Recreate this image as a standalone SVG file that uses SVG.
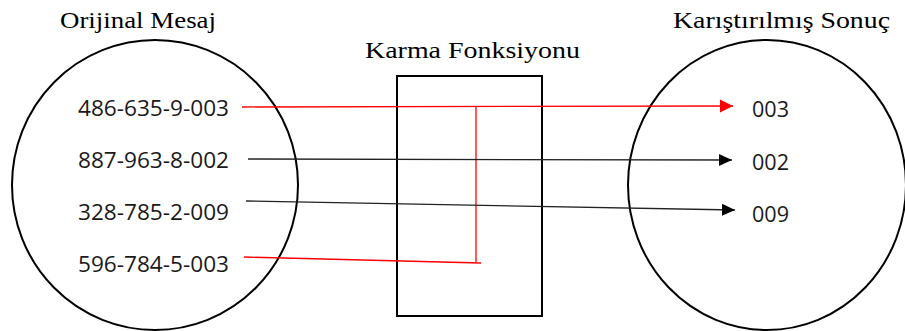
<svg xmlns="http://www.w3.org/2000/svg" width="905" height="331" viewBox="0 0 905 331">
  <style>
    .title { font-family: "Liberation Serif", "DejaVu Serif", serif; font-size: 24px; fill: #000; }
    .label { font-family: "Open Sans", "Noto Sans", sans-serif; font-size: 21px; fill: #1a1a1a; }
    .shape { fill: none; stroke: #000; stroke-width: 2; }
    .red { fill: none; stroke: #ff0000; stroke-width: 1.3; }
    .blk { fill: none; stroke: #222; stroke-width: 1.3; }
  </style>
  <defs>
    <marker id="arrRed" markerUnits="userSpaceOnUse" markerWidth="14" markerHeight="14" refX="13" refY="7" orient="auto">
      <path d="M0,0.5 L13,7 L0,13.5 Z" fill="#ff0000"/>
    </marker>
    <marker id="arrBlk" markerUnits="userSpaceOnUse" markerWidth="14" markerHeight="14" refX="13" refY="7" orient="auto">
      <path d="M0,1 L13,7 L0,13 Z" fill="#000"/>
    </marker>
  </defs>
  <rect width="905" height="331" fill="#fff"/>

  <g id="original">
    <ellipse class="shape" cx="155" cy="185" rx="143" ry="145"/>
    <text class="title" x="60" y="28" textLength="156" lengthAdjust="spacingAndGlyphs">Orijinal Mesaj</text>
    <text class="label" x="78" y="116" textLength="151" lengthAdjust="spacingAndGlyphs">486-635-9-003</text>
    <text class="label" x="78" y="168" textLength="151" lengthAdjust="spacingAndGlyphs">887-963-8-002</text>
    <text class="label" x="78" y="220" textLength="151" lengthAdjust="spacingAndGlyphs">328-785-2-009</text>
    <text class="label" x="78" y="272" textLength="151" lengthAdjust="spacingAndGlyphs">596-784-5-003</text>
  </g>

  <g id="hash">
    <rect class="shape" x="397" y="76" width="145" height="240"/>
    <text class="title" x="365" y="58" textLength="215" lengthAdjust="spacingAndGlyphs">Karma Fonksiyonu</text>
  </g>

  <g id="result">
    <ellipse class="shape" cx="767" cy="185" rx="139" ry="145"/>
    <text class="title" x="673" y="28" textLength="217" lengthAdjust="spacingAndGlyphs">Karıştırılmış Sonuç</text>
    <text class="label" x="752" y="117" textLength="37" lengthAdjust="spacingAndGlyphs">003</text>
    <text class="label" x="752" y="170" textLength="37" lengthAdjust="spacingAndGlyphs">002</text>
    <text class="label" x="752" y="222" textLength="37" lengthAdjust="spacingAndGlyphs">009</text>
  </g>

  <g id="connectors">
    <line class="red" x1="242" y1="107" x2="733" y2="106" marker-end="url(#arrRed)"/>
    <line class="red" x1="476" y1="106" x2="476" y2="262"/>
    <line class="red" x1="244" y1="257" x2="481" y2="263"/>
    <line class="blk" x1="248" y1="159" x2="732" y2="160" marker-end="url(#arrBlk)"/>
    <line class="blk" x1="246" y1="201" x2="735" y2="210" marker-end="url(#arrBlk)"/>
  </g>
</svg>
